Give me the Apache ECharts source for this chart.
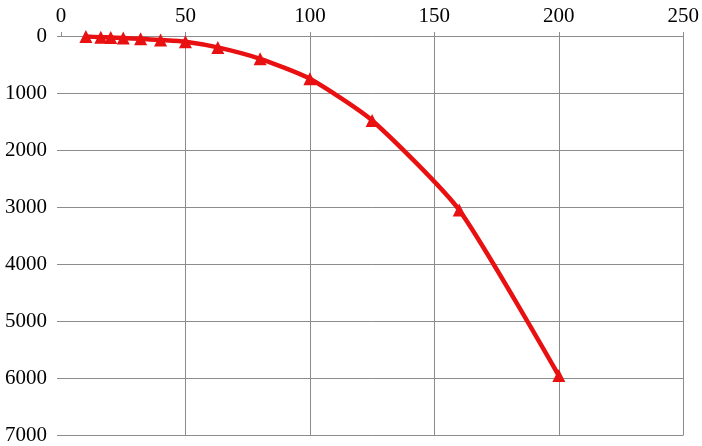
<!DOCTYPE html>
<html>
<head>
<meta charset="utf-8">
<script src="https://cdn.jsdelivr.net/npm/echarts@6/dist/echarts.min.js"></script>
<style>
  html, body { margin: 0; padding: 0; background: #fff; }
  #chart { width: 702px; height: 446px; }
</style>
</head>
<body>
<div id="chart"></div>
<script>
// x values (flow) and y values (drop)
var xValues = [10, 16, 20, 25, 32, 40, 50, 63, 80, 100, 125, 160, 200];
var yValues = [10, 20, 25, 35, 50, 70, 100, 200, 400, 750, 1480, 3050, 5950];

var points = xValues.map(function (x, i) { return [x, yValues[i]]; });

var font = { fontFamily: "Liberation Serif", fontSize: 21, color: "#000" };
var gridColor = "#8c8c8c";

var myChart = echarts.init(document.getElementById("chart"));
var option = {
  animation: false,
  grid: { left: 61, right: 13, top: 36, bottom: 10 },
  xAxis: {
    type: "value",
    position: "top",
    min: 0,
    max: 250,
    interval: 50,
    axisLine: { show: false },
    axisTick: { show: true, length: 4, lineStyle: { color: gridColor } },
    axisLabel: Object.assign({ margin: 9, formatter: function (v) { return String(v); } }, font),
    splitLine: { show: true, showMinLine: false, lineStyle: { color: gridColor, width: 1 } }
  },
  yAxis: {
    type: "value",
    inverse: true,
    min: 0,
    max: 7000,
    interval: 1000,
    axisLine: { show: false },
    axisTick: { show: true, length: 4, lineStyle: { color: gridColor } },
    axisLabel: Object.assign({ margin: 14, formatter: function (v) { return String(v); } }, font),
    splitLine: { show: true, lineStyle: { color: gridColor, width: 1 } }
  },
  series: [
    {
      type: "line",
      data: points,
      smooth: 0.2,
      symbol: "triangle",
      symbolSize: 13,
      lineStyle: { color: "#e81010", width: 4.5 },
      itemStyle: { color: "#e81010" }
    }
  ]
};
myChart.setOption(option);
</script>
</body>
</html>
